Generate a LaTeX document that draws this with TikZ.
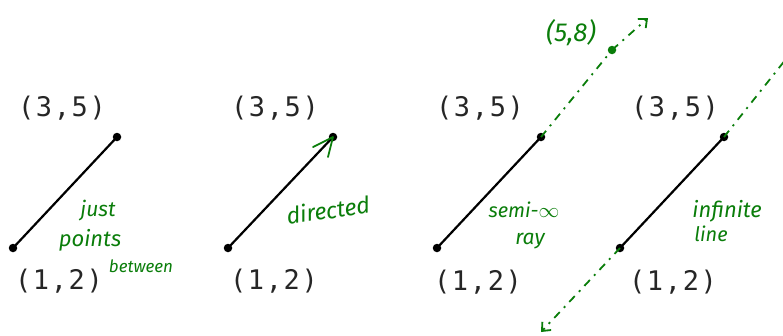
\documentclass[tikz,border=0pt]{standalone}
\usepackage{fontspec}
\usetikzlibrary{arrows.meta}
\newfontfamily\coordfont[LetterSpace=6]{DejaVu Sans Mono}
\newfontfamily\handfont{Fira Sans}
\definecolor{ink}{RGB}{10,125,10}
\begin{document}
\begin{tikzpicture}[x=1pt,y=-1pt,
  pt/.style={circle,fill=black,inner sep=0pt,minimum size=8.5pt},
  gpt/.style={circle,fill=ink,inner sep=0pt,minimum size=8.5pt},
  coord/.style={font=\coordfont\fontsize{27}{27}\selectfont,inner sep=0pt,text=black!85},
  hand/.style={font=\handfont\itshape\fontsize{#1}{#1}\selectfont,text=ink,inner sep=0pt,align=center},
  hand/.default=20,
  seg/.style={line width=2.2pt},
  gdash/.style={ink,line width=1.8pt,dash pattern=on 8pt off 6pt on 2pt off 6pt},
  garrow/.style={-{Straight Barb[length=7pt,width=12pt,line width=1.8pt]}}
]
\useasboundingbox (0,0) rectangle (783,335);
% panel 1
\node[pt] (a1) at (13,248) {};
\node[pt] (b1) at (117,137) {};
\draw[seg] (a1.center) -- (b1.center);
\node[coord] (t1) at (62,108) {(3,5)};
\node[coord] (u1) at (59,281) {(1,2)};
\node[hand=21] (h1) at (98,211) {just};
\node[hand=22] (h1b) at (90,240) {points};
\node[hand=17] (h1c) at (141,266) {between};
% panel 2
\node[pt] (a2) at (228,248) {};
\node[pt] (b2) at (333,137) {};
\draw[seg] (a2.center) -- (b2.center);
\coordinate (k2) at (313,147);
\coordinate (m2) at (328,157);
\draw[ink,line width=1.8pt,line cap=round,line join=round] (k2) -- (b2.center) -- (m2);
\node[coord] (t2) at (275,108) {(3,5)};
\node[coord] (u2) at (274,281) {(1,2)};
\node[hand=23,rotate=8] (h2) at (328,210) {directed};
% panel 3
\node[pt] (a3) at (437,248) {};
\node[pt] (b3) at (541,137) {};
\draw[seg] (a3.center) -- (b3.center);
\node[coord] (t3) at (480,108) {(3,5)};
\node[coord] (u3) at (478,282) {(1,2)};
\node[gpt] (c3) at (612,50) {};
\coordinate (e3) at (648,18);
\draw[gdash] (b3.center) -- (c3.center);
\draw[gdash,garrow] (c3.center) -- (e3);
\node[hand=26] (l3) at (571,33) {(5,8)};
\node[hand=20] (h3) at (524,210) {semi-$\infty$};
\node[hand=21] (h3b) at (530,241) {ray};
% panel 4
\node[pt] (a4) at (620,248) {};
\node[pt] (b4) at (724,137) {};
\draw[seg] (a4.center) -- (b4.center);
\node[coord] (t4) at (675,108) {(3,5)};
\node[coord] (u4) at (673,282) {(1,2)};
\coordinate (e4) at (541,332);
\coordinate (f4) at (790,54);
\draw[gdash,garrow] (a4.center) -- (e4);
\draw[gdash] (b4.center) -- (f4);
\node[hand=22] (h4) at (727,211) {infinite};
\node[hand=20] (h4b) at (711,234) {line};
\end{tikzpicture}
\end{document}
